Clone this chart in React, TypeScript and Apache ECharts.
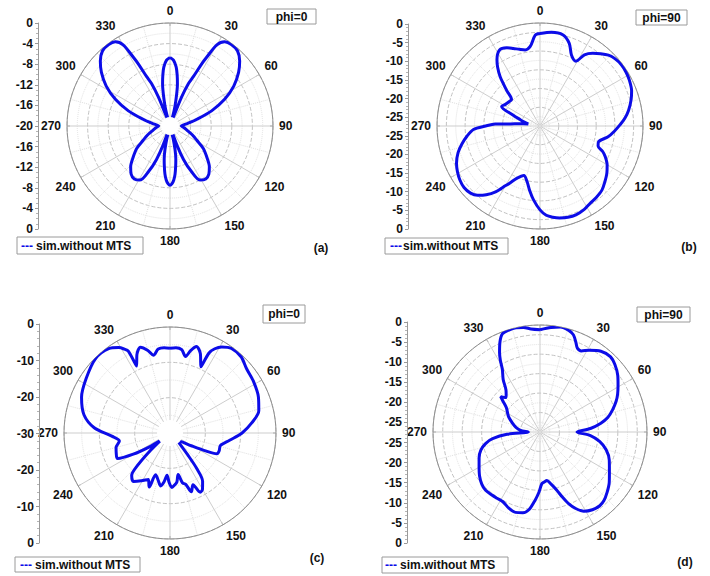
import React, { useEffect, useRef } from "react";
import * as echarts from "echarts";

const FONT = "'Liberation Sans', Arial, Helvetica, sans-serif";
const BLUE = "#0c0ce8";

// [angle (deg), gain (dB)]
const patternA: number[][] = [
  [0, -6.7], [3, -7.2], [6, -8.5], [8, -10], [10, -11.7], [13, -15], [15, -17], [17, -19.5], [19, -19],
  [21, -17.5], [21.7, -14], [23.5, -11], [25.3, -9.4], [27, -6.5], [28, -5], [30, -1.8], [33, -0.5],
  [37, -0.2], [42, -0.4], [47, -1.5], [52, -3.1], [58, -5.4], [64, -8.2], [70, -11.4], [76, -14.6],
  [82, -16.6], [90, -17.8], [96, -17.3], [102, -16.8], [107, -16.2], [112, -15.3], [118, -14.1],
  [124, -12.2], [130, -10.7], [136, -9.0], [141, -8.0], [146, -7.6], [151, -8.0], [155, -10.4],
  [158, -13], [160, -16], [163, -20], [166, -17.5], [168, -15.3], [170, -13.5], [172, -12.1],
  [174, -10.6], [176, -9.5], [178, -8.8], [180, -8.5], [182, -8.8], [184, -9.5], [186, -10.6],
  [188, -12.1], [190, -13.5], [192, -15.3], [194, -17.5], [197, -20], [200, -16], [202, -13],
  [205, -10.4], [209, -8.0], [214, -7.6], [219, -8.0], [224, -9.0], [230, -10.7], [236, -12.2],
  [242, -14.1], [248, -15.3], [253, -16.2], [258, -16.8], [264, -17.3], [270, -17.8], [278, -16.6],
  [284, -14.6], [290, -11.4], [296, -8.2], [302, -5.4], [308, -3.1], [313, -1.5], [318, -0.4],
  [323, -0.2], [327, -0.5], [330, -1.8], [332, -5], [333, -6.5], [334.7, -9.4], [336.5, -11],
  [338.3, -14], [339, -17.5], [341, -19], [343, -19.5], [345, -17], [347, -15], [350, -11.7],
  [352, -10], [354, -8.5], [357, -7.2], [360, -6.7],
];

const patternB: number[][] = [
  [0, -2.8], [7, -2.3], [14, -2.4], [19.5, -4.1], [24, -6.8], [29, -7.7], [32, -5.1], [36, -3.5],
  [40, -2.3], [44, -1.2], [48, -0.6], [53, -0.3], [58, -0.4], [63, -0.7], [69, -1.3], [74, -2.2],
  [80, -3.5], [85, -4.8], [89, -6.1], [94, -7.6], [99, -9.1], [105, -11.3], [109, -11.1], [112, -9.5],
  [115, -8.3], [120, -6.8], [125, -5.7], [131, -4.6], [136, -3.7], [142, -3.2], [147, -2.9],
  [152, -2.3], [158, -1.9], [163, -2.0], [168, -2.4], [172, -2.9], [176, -3.6], [180, -5.1],
  [185, -7.7], [189, -10.0], [193, -12.2], [198, -13.6], [204, -12.2], [208, -10.2], [211, -8.5],
  [214, -6.3], [218, -4.2], [222, -2.6], [226, -1.7], [231, -1.4], [236, -1.7], [241, -2.3],
  [246, -3.1], [252, -4.5], [257, -6.1], [262, -7.8], [267, -9.7], [270, -13], [272.5, -15.5],
  [274, -19.5], [276, -22], [280, -24.3], [284, -23.2], [288, -21.9], [292, -19.8], [297, -16.0],
  [302, -16.6], [308, -17.0], [313, -17.1], [317, -14.4], [321, -10.6], [324, -8.3], [327, -6.4],
  [332, -4.5], [337, -4.8], [341, -5.6], [345, -6.3], [349, -6.8], [353, -6.1], [357, -3.2], [360, -2.8],
];

const patternC: number[][] = [
  [0, -6.0], [4, -5.8], [8, -6.2], [11.5, -7.9], [14, -6.0], [17, -4.4], [21, -6.0], [25, -9.3],
  [26, -4.8], [28, -3.0], [31, -1.6], [36, -0.4], [43, -0.5], [50, -1.7], [58, -2.2], [68, -3.0],
  [76, -4.1], [83, -6.7], [90, -9.6], [97, -13.0], [104, -15.3], [110, -15.2], [114, -15.5],
  [117, -19], [121, -23], [128, -26], [136, -27], [141, -22], [143, -17.5], [146, -13.5],
  [150, -11.6], [153, -11.2], [156, -14.0], [160, -12.3], [163, -14.8], [166, -15.5], [169, -18.0],
  [172, -16.0], [175, -15.2], [178, -14.6], [181, -16.0], [184, -18.0], [187, -16.0], [190, -14.8],
  [194, -16.2], [199, -17.5], [201, -13.6], [205, -15.5], [211, -14.2], [217, -12.8], [222, -13.8],
  [225, -17], [228, -22], [232, -26.5], [236, -23], [240, -18], [244, -13.5], [250, -13.8],
  [255, -14.2], [261, -15.5], [267, -13.5], [274, -8.5], [282, -5.1], [292, -3.0], [303, -1.7],
  [315, -0.2], [324, -0.5], [329, -1.8], [331.5, -3.0], [333, -4.0], [333.5, -8.8], [337, -6.0],
  [341, -4.3], [345, -5.8], [348, -7.5], [352, -6.0], [356, -5.8], [360, -6.0],
];

const patternD: number[][] = [
  [0, -1.2], [6, -0.5], [11, 0], [16, -0.4], [19, -1.1], [22, -2.8], [24, -3.9], [27, -4.1],
  [31, -3.0], [37, -1.5], [43, -1.0], [48, -1.6], [54, -2.8], [59, -4.1], [64, -5.3], [68, -6.4],
  [73, -8.0], [78, -9.7], [82, -11.8], [86, -14.5], [90, -18], [94, -14.5], [99, -12], [105, -9.9],
  [112, -8.3], [120, -6.9], [126, -5.5], [132, -4.3], [137, -3.4], [141, -3.1], [146, -3.4],
  [151, -4.2], [155, -5.8], [158, -7.5], [161, -9.8], [164, -12], [168, -13.8], [172, -14.9],
  [175, -14.6], [178, -14.2], [181, -12], [184, -10], [188, -7.4], [192, -6.3], [197, -5.9],
  [202, -6.3], [208, -7.2], [213, -7.2], [218, -7.1], [223, -7.0], [228, -7.4], [234, -8.3],
  [241, -9.6], [247, -10.5], [253, -11.6], [258, -13.2], [262, -15.2], [266, -19], [270, -24.5],
  [275, -22.5], [281, -21.2], [287, -20.2], [296, -18.5], [306, -16.8], [310, -15], [312, -13.9],
  [315, -15], [318, -14.5], [321, -13.6], [325, -11], [329, -8.7], [331, -6.5], [333, -4.6],
  [336, -2.2], [339, -0.5], [343, -0.1], [347, 0], [351, -0.3], [355, -0.9], [360, -1.2],
];

const patterns = [patternA, patternB, patternC, patternD];
const radialMin = [-20, -27.5, -30, -27.5];
const radialStep = [4, 5, 10, 5];
const phiLabels = ["phi=0", "phi=90", "phi=0", "phi=90"];
const panelTags = ["(a)", "(b)", "(c)", "(d)"];
const seriesName = "sim.without MTS";

const layout = [
  { cx: 170, cy: 126, r: 103, axisX: 38, axisTop: 23, axisBottom: 229, disc: 9, phi: [267, 9, 49, 15], legend: [17, 237, 126, 17], dash: 21, txt: 36, tag: [321, 248] },
  { cx: 540, cy: 126, r: 103, axisX: 408, axisTop: 24, axisBottom: 229, disc: 0, phi: [636, 10, 51, 15], legend: [385, 238, 123, 16], dash: 390, txt: 403, tag: [689, 247] },
  { cx: 170, cy: 433, r: 106, axisX: 39, axisTop: 324, axisBottom: 543, disc: 13, phi: [263, 305, 42, 18], legend: [15, 557, 125, 15], dash: 20, txt: 35, tag: [317, 558] },
  { cx: 540, cy: 432, r: 107, axisX: 407, axisTop: 322, axisBottom: 543, disc: 0, phi: [637, 307, 53, 15], legend: [382, 557, 126, 16], dash: 385, txt: 400, tag: [685, 562] },
];

function buildOption() {
  const polar: any[] = [];
  const angleAxis: any[] = [];
  const radiusAxis: any[] = [];
  const grid: any[] = [];
  const xAxis: any[] = [];
  const yAxis: any[] = [];
  const series: any[] = [];
  const graphic: any[] = [];

  layout.forEach((L, i) => {
    const span = -radialMin[i];
    const step = radialStep[i];
    polar.push({ center: [L.cx, L.cy], radius: L.r });
    angleAxis.push({
      polarIndex: i,
      type: "value",
      min: 0,
      max: 360,
      interval: 30,
      startAngle: 90,
      clockwise: true,
      axisLine: { lineStyle: { color: "#8f8f8f", width: 1 } },
      axisTick: { show: true, inside: true, length: 3, lineStyle: { color: "#8f8f8f" } },
      axisLabel: {
        margin: 6,
        color: "#111",
        fontFamily: FONT,
        fontWeight: "bold",
        fontSize: 12,
        formatter: (v: number) => (v === 360 ? "" : String(v)),
      },
      splitLine: { show: true, lineStyle: { color: "#cdcdcd", width: 1 } },
      minorTick: { show: false, splitNumber: 2 },
      minorSplitLine: { show: true, lineStyle: { color: "#e0e0e0", type: "dotted" } },
    });
    radiusAxis.push({
      polarIndex: i,
      type: "value",
      min: radialMin[i],
      max: 0,
      interval: step,
      axisLine: { show: false },
      axisTick: { show: false },
      axisLabel: { show: false },
      splitLine: { show: true, lineStyle: { color: "#c2c2c2", type: "dashed" } },
      minorTick: { show: false, splitNumber: 2 },
      minorSplitLine: { show: true, lineStyle: { color: "#e2e2e2", type: "dotted" } },
    });
    grid.push({ left: L.axisX, top: L.axisTop, width: 1, height: L.axisBottom - L.axisTop });
    xAxis.push({ gridIndex: i, type: "value", show: false, min: 0, max: 1 });
    yAxis.push({
      gridIndex: i,
      type: "value",
      min: 0,
      max: 2 * span,
      interval: step,
      axisLine: { show: true, lineStyle: { color: "#9a9a9a" } },
      axisTick: { show: true, length: 3, lineStyle: { color: "#9a9a9a" } },
      minorTick: { show: true, splitNumber: i === 2 ? 5 : step === 4 ? 4 : 5, length: 2, lineStyle: { color: "#b5b5b5" } },
      splitLine: { show: false },
      axisLabel: {
        margin: 5,
        color: "#111",
        fontFamily: FONT,
        fontWeight: "bold",
        fontSize: 12,
        formatter: (u: number) => {
          const d = u <= span ? -u : -(2 * span - u);
          return d === 0 ? "0" : String(Math.round(d * 10) / 10);
        },
      },
    });
    series.push({
      name: seriesName,
      type: "line",
      coordinateSystem: "polar",
      polarIndex: i,
      data: patterns[i].map((p) => [p[1], p[0]]),
      symbol: "none",
      smooth: 0.3,
      lineStyle: { color: BLUE, width: 3 },
      z: 3,
    });
    if (L.disc > 0) {
      graphic.push({ type: "circle", z: 100, shape: { cx: L.cx, cy: L.cy, r: L.disc }, style: { fill: "#ffffff" } });
    }
    const [px, py, pw, ph] = L.phi;
    graphic.push({ type: "rect", z: 100, shape: { x: px, y: py, width: pw, height: ph }, style: { fill: "#fff", stroke: "#9a9a9a", lineWidth: 1 } });
    graphic.push({
      type: "text", z: 101,
      style: { x: px + pw / 2, y: py + ph / 2, text: phiLabels[i], fill: "#111", font: `bold 12px ${FONT}`, textAlign: "center", textVerticalAlign: "middle" },
    });
    const [lx, ly, lw, lh] = L.legend;
    graphic.push({ type: "rect", z: 100, shape: { x: lx, y: ly, width: lw, height: lh }, style: { fill: "#fff", stroke: "#9a9a9a", lineWidth: 1 } });
    graphic.push({
      type: "text", z: 101,
      style: { x: L.dash, y: ly + lh / 2, text: "---", fill: BLUE, font: `bold 12px ${FONT}`, textAlign: "left", textVerticalAlign: "middle" },
    });
    graphic.push({
      type: "text", z: 101,
      style: { x: L.txt, y: ly + lh / 2, text: seriesName, fill: "#111", font: `bold 12px ${FONT}`, textAlign: "left", textVerticalAlign: "middle" },
    });
    graphic.push({
      type: "text", z: 101,
      style: { x: L.tag[0], y: L.tag[1], text: panelTags[i], fill: "#111", font: `bold 12px ${FONT}`, textAlign: "center", textVerticalAlign: "middle" },
    });
  });

  return {
    animation: false,
    backgroundColor: "#ffffff",
    polar,
    angleAxis,
    radiusAxis,
    grid,
    xAxis,
    yAxis,
    series,
    graphic: { elements: graphic },
  };
}

export default function App() {
  const ref = useRef<HTMLDivElement>(null);
  useEffect(() => {
    if (!ref.current) return;
    const chart = echarts.init(ref.current, undefined, { renderer: "svg" });
    chart.setOption(buildOption() as any);
    return () => chart.dispose();
  }, []);
  return (
    <div
      ref={ref}
      style={{ position: "fixed", left: 0, top: 0, width: 710, height: 576, background: "#fff" }}
    />
  );
}
